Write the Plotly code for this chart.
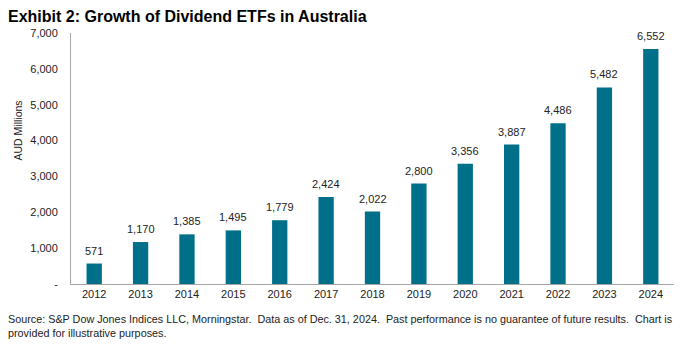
import plotly.graph_objects as go

years = ["2012", "2013", "2014", "2015", "2016", "2017", "2018",
         "2019", "2020", "2021", "2022", "2023", "2024"]
aum_millions = [571, 1170, 1385, 1495, 1779, 2424, 2022,
                2800, 3356, 3887, 4486, 5482, 6552]
y_ticks = [0, 1000, 2000, 3000, 4000, 5000, 6000, 7000]
y_tick_text = ["-", "1,000", "2,000", "3,000", "4,000", "5,000", "6,000", "7,000"]

bar_color = "#00708A"
axis_color = "#A6A6A6"
font = "Liberation Sans, Arial, sans-serif"

fig = go.Figure(
    go.Bar(
        x=years,
        y=aum_millions,
        marker=dict(color=bar_color, line=dict(width=0)),
    )
)

# Value labels above each bar (category axis positions are indexed 0..n-1)
for i, v in enumerate(aum_millions):
    fig.add_annotation(
        x=i, y=v, xref="x", yref="y",
        text=f"{v:,}",
        xanchor="center", yanchor="bottom",
        yshift=5,
        showarrow=False,
        font=dict(family=font, size=11, color="#222222"),
    )

fig.update_layout(
    width=693,
    height=344,
    margin=dict(l=71, r=19, t=33, b=60),
    paper_bgcolor="white",
    plot_bgcolor="white",
    bargap=0.67,
    showlegend=False,
    font=dict(family=font, size=11, color="#222222"),
)

fig.update_xaxes(
    type="category",
    range=[-0.5, len(years) - 0.5],
    showline=True,
    linecolor=axis_color,
    linewidth=1,
    showgrid=False,
    ticks="",
    tickfont=dict(size=11, color="#222222"),
)

fig.update_yaxes(
    range=[0, 7000],
    tickvals=y_ticks,
    ticktext=y_tick_text,
    showline=True,
    linecolor=axis_color,
    linewidth=1,
    showgrid=False,
    zeroline=False,
    ticks="",
    ticklabelstandoff=10,
    tickfont=dict(size=11, color="#222222"),
)

# Title, y-axis label and source note
fig.add_annotation(
    text="<b>Exhibit 2: Growth of Dividend ETFs in Australia</b>",
    xref="paper", yref="paper", x=0, y=1,
    xanchor="left", yanchor="middle",
    xshift=-65, yshift=17,
    showarrow=False,
    font=dict(family=font, size=16, color="#000000"),
)
fig.add_annotation(
    text="AUD Millions",
    xref="paper", yref="paper", x=0, y=0.5,
    xanchor="center", yanchor="middle",
    xshift=-54, yshift=28,
    textangle=-90,
    showarrow=False,
    font=dict(family=font, size=10.5, color="#222222"),
)
fig.add_annotation(
    text=("Source: S&P Dow Jones Indices LLC, Morningstar.  Data as of Dec. 31, 2024.  "
          "Past performance is no guarantee of future results.  Chart is<br>"
          "provided for illustrative purposes."),
    xref="paper", yref="paper", x=0, y=0,
    xanchor="left", yanchor="top", align="left",
    xshift=-65, yshift=-27,
    showarrow=False,
    font=dict(family=font, size=10.8, color="#222222"),
)

fig.write_html("out.html")
